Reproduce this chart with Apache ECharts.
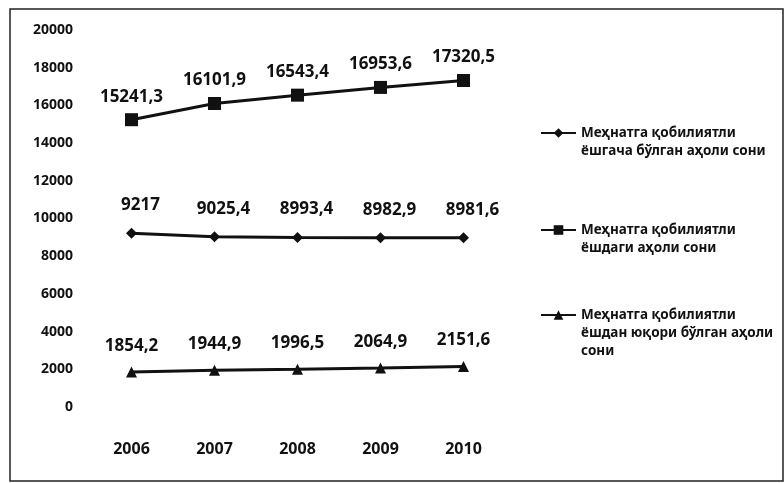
<!DOCTYPE html>
<html>
<head>
<meta charset="utf-8">
<script src="https://cdn.jsdelivr.net/npm/echarts@6/dist/echarts.min.js"></script>
<style>
  html, body { margin: 0; padding: 0; background: #fff; }
  #chart { width: 784px; height: 483px; }
</style>
</head>
<body>
<div id="chart"></div>
<script>
  // years
  var years = ['2006', '2007', '2008', '2009', '2010']
  // series values
  var belowAge = [9217, 9025.4, 8993.4, 8982.9, 8981.6]
  var workingAge = [15241.3, 16101.9, 16543.4, 16953.6, 17320.5]
  var aboveAge = [1854.2, 1944.9, 1996.5, 2064.9, 2151.6]
  // legend texts, one entry per line
  var belowName = ['Меҳнатга қобилиятли', 'ёшгача бўлган аҳоли сони']
  var workingName = ['Меҳнатга қобилиятли', 'ёшдаги аҳоли сони']
  var aboveName = ['Меҳнатга қобилиятли', 'ёшдан юқори бўлган аҳоли', 'сони']

  var font = 'Noto Sans'
  var ink = '#111'

  function fmt (p) {
    return String(p.value).replace('.', ',')
  }

  function legendFor (lines, top) {
    // blank lines in front so the icon sits beside the first line
    var pad = []
    for (var i = 1; i < lines.length; i++) pad.push('')
    return {
      data: [lines.join(' ')],
      left: 540,
      top: top,
      padding: 0,
      itemWidth: 35,
      itemHeight: 12,
      itemGap: 0,
      formatter: function () {
        return pad.concat(lines).join('\n')
      },
      textStyle: {
        fontFamily: font,
        fontWeight: 'bold',
        fontSize: 13.5,
        lineHeight: 18,
        color: ink
      }
    }
  }

  function makeSeries (name, data, symbol, size, distance, offset) {
    return {
      name: name,
      type: 'line',
      data: data,
      symbol: symbol,
      symbolSize: size,
      color: ink,
      lineStyle: { width: 3, color: ink },
      itemStyle: { color: ink },
      label: {
        show: true,
        position: 'top',
        distance: distance,
        offset: offset,
        formatter: fmt,
        fontFamily: font,
        fontWeight: 'bold',
        fontSize: 17,
        color: ink
      }
    }
  }

  var chart = echarts.init(document.getElementById('chart'))
  chart.setOption({
    animation: false,
    backgroundColor: '#fff',
    graphic: [{
      type: 'rect',
      shape: { x: 10, y: 9, width: 773, height: 472 },
      style: { fill: 'none', stroke: '#222', lineWidth: 1.5 },
      silent: true
    }],
    legend: [
      legendFor(belowName, 106),
      legendFor(workingName, 203),
      legendFor(aboveName, 270)
    ],
    grid: {
      left: 90,
      right: 279,
      top: 30,
      bottom: 76,
      containLabel: false
    },
    xAxis: {
      type: 'category',
      data: years,
      boundaryGap: true,
      axisLine: { show: false },
      axisTick: { show: false },
      axisLabel: {
        margin: 34,
        fontFamily: font,
        fontWeight: 'bold',
        fontSize: 16,
        color: ink
      }
    },
    yAxis: {
      type: 'value',
      min: 0,
      max: 20000,
      interval: 2000,
      axisLine: { show: false },
      axisTick: { show: false },
      splitLine: { show: false },
      axisLabel: {
        margin: 17,
        formatter: function (val) {
          return String(val)
        },
        fontFamily: font,
        fontWeight: 'bold',
        fontSize: 14,
        color: ink
      }
    },
    series: [
      makeSeries(belowName.join(' '), belowAge, 'diamond', 11, 14, [9, 0]),
      makeSeries(workingName.join(' '), workingAge, 'rect', 13, 8, [0, 0]),
      makeSeries(aboveName.join(' '), aboveAge, 'triangle', 11, 12, [0, 0])
    ]
  })
</script>
</body>
</html>
